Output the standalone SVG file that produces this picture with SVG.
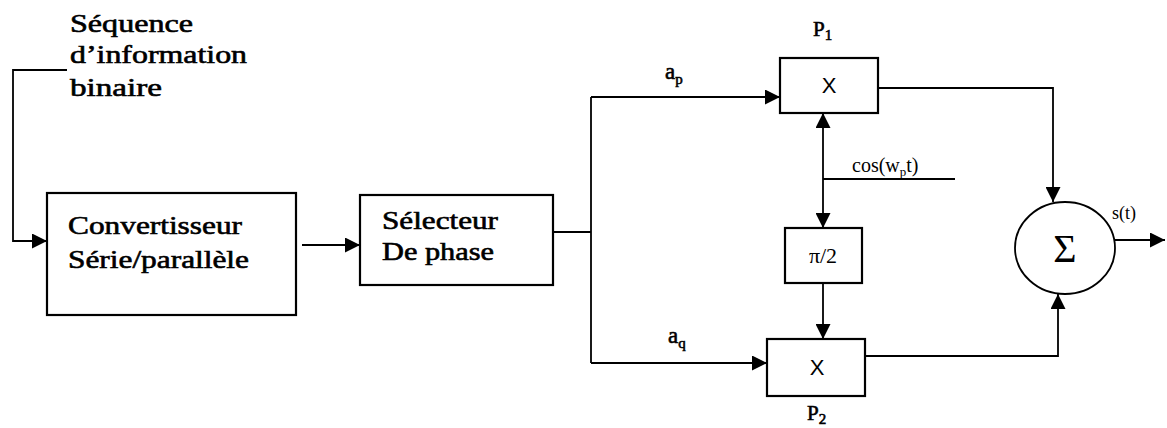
<svg xmlns="http://www.w3.org/2000/svg" width="1167" height="428" viewBox="0 0 1167 428">
<style>
.t{font-family:"Liberation Serif","Times New Roman",serif;fill:#000}
.h{stroke:#000;stroke-width:0.6}
.b{fill:#fff;stroke:#000;stroke-width:2.2}
.c{fill:none;stroke:#000;stroke-width:1.8}
.x{font-family:"Liberation Sans",Arial,sans-serif;font-size:22px;fill:#000}
</style>
<defs>
<marker id="ahL" viewBox="0 0 10 10" refX="10" refY="5" markerWidth="17" markerHeight="15" markerUnits="userSpaceOnUse" orient="auto-start-reverse">
<path d="M0,0 L10,5 L0,10 Z" fill="#000"/>
</marker>
</defs>
<g id="input-label">
<text class="t h" x="70" y="32" font-size="25" textLength="123" lengthAdjust="spacingAndGlyphs">Séquence</text>
<text class="t h" x="70" y="63" font-size="25" textLength="177" lengthAdjust="spacingAndGlyphs">d’information</text>
<text class="t h" x="70" y="96" font-size="25" textLength="92" lengthAdjust="spacingAndGlyphs">binaire</text>
</g>
<g id="convertisseur">
<rect class="b" x="47" y="193" width="249" height="122"/>
<text class="t h" x="68" y="234" font-size="25" textLength="174" lengthAdjust="spacingAndGlyphs">Convertisseur</text>
<text class="t h" x="68" y="268" font-size="25" textLength="181" lengthAdjust="spacingAndGlyphs">Série/parallèle</text>
</g>
<g id="selecteur">
<rect class="b" x="360" y="195" width="193" height="90"/>
<text class="t h" x="382" y="229" font-size="25" textLength="116" lengthAdjust="spacingAndGlyphs">Sélecteur</text>
<text class="t h" x="382" y="260" font-size="25" textLength="112" lengthAdjust="spacingAndGlyphs">De phase</text>
</g>
<g id="p1">
<rect class="b" x="780" y="58" width="98" height="55"/>
<text class="x" x="829" y="93" text-anchor="middle">X</text>
<text class="t h" x="813" y="36" font-size="21">P<tspan font-size="15" dy="4">1</tspan></text>
</g>
<g id="dephaseur">
<rect class="b" x="785" y="228" width="77" height="55"/>
<text class="t" x="823" y="263" font-size="22" text-anchor="middle">π/2</text>
</g>
<g id="p2">
<rect class="b" x="767" y="339" width="98" height="57"/>
<text class="x" x="817" y="375" text-anchor="middle">X</text>
<text class="t h" x="807" y="420" font-size="21">P<tspan font-size="15" dy="4">2</tspan></text>
</g>
<g id="sommateur">
<ellipse cx="1065" cy="248" rx="50" ry="46" fill="#fff" stroke="#000" stroke-width="1.8"/>
<text class="t" x="1065" y="262" font-size="40" text-anchor="middle">Σ</text>
</g>
<g id="labels">
<text class="t h" x="665" y="79" font-size="23">a<tspan font-size="15" dy="5">p</tspan></text>
<text class="t h" x="668" y="343" font-size="23">a<tspan font-size="15" dy="5">q</tspan></text>
<text class="t" x="852" y="172" font-size="20">cos(w<tspan font-size="13" dy="4">p</tspan><tspan dy="-4">t)</tspan></text>
<text class="t" x="1112" y="219" font-size="18">s(t)</text>
</g>
<g id="connectors">
<path class="c" d="M67,70 H13 V241 H47" marker-end="url(#ahL)"/>
<path class="c" d="M302,245 H360" marker-end="url(#ahL)"/>
<path class="c" d="M553,232 H591"/>
<path class="c" d="M591,97 V363" stroke-width="2.4"/>
<path class="c" d="M591,97 H780" marker-end="url(#ahL)"/>
<path class="c" d="M591,363 H767" marker-end="url(#ahL)"/>
<path class="c" d="M823,113 V228" stroke-width="2.6" marker-start="url(#ahL)" marker-end="url(#ahL)"/>
<path class="c" d="M823,179 H955"/>
<path class="c" d="M823,283 V339" stroke-width="2.6" marker-end="url(#ahL)"/>
<path class="c" d="M878,88 H1053 V202" marker-end="url(#ahL)"/>
<path class="c" d="M865,356 H1058 V294" marker-end="url(#ahL)"/>
<path class="c" d="M1115,240 H1165" marker-end="url(#ahL)"/>
</g>
</svg>
